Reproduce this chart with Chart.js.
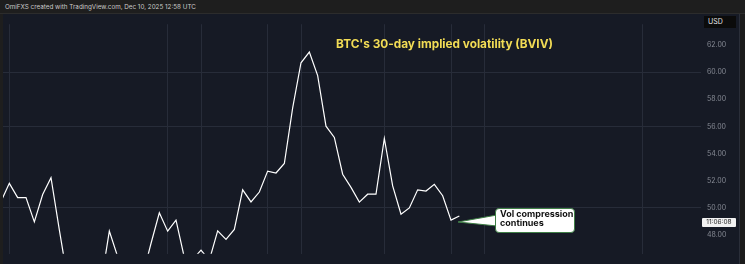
<!DOCTYPE html>
<html>
<head>
<meta charset="utf-8">
<script src="https://cdn.jsdelivr.net/npm/chart.js@4.4.1/dist/chart.umd.min.js"></script>
<style>
  html, body { margin: 0; padding: 0; }
  body { width: 745px; height: 264px; overflow: hidden; background: #1b1b1b; position: relative; font-family: Inter, "Liberation Sans", sans-serif; }
  #header { position: absolute; left: 0; top: 0; width: 745px; height: 13px; background: #1e1e1e; border-bottom: 1px solid #2c2c2c; }
  #header span { position: absolute; left: 5px; top: 3px; font-size: 6.3px; color: #c9c9c9; white-space: nowrap; }
  #frame { position: absolute; left: 0; top: 14px; width: 739px; height: 250px; background: #161a25; border-right: 1px solid #2a2e39; }
  #wrap { position: absolute; left: 1px; top: 14px; width: 738px; height: 250px; }
  #strip { position: absolute; left: 0; top: 14px; width: 3px; height: 250px; background: #1e1e1e; }
  #title { position: absolute; left: 336px; top: 37px; font-size: 11.8px; font-weight: 700; color: #f2dc55; white-space: nowrap; }
  #usd { position: absolute; left: 704px; top: 16px; width: 32px; height: 12px; background: #0b0b0b; color: #e8e8e8; font-size: 7px; line-height: 12px; text-indent: 4px; }
  #timer { position: absolute; left: 702px; top: 218px; width: 34px; height: 9px; background: #f2f2f2; color: #222; font-size: 6.5px; line-height: 9px; text-align: center; border-radius: 1px; }
  #callout { position: absolute; left: 495px; top: 208px; width: 74px; height: 22px; background: #fff; border: 1.5px solid #3f7f46; border-radius: 4px; padding: 1px 0 0 4px; }
  #callout div { font-size: 9px; font-weight: 700; color: #111; line-height: 8.5px; white-space: nowrap; }
  svg { position: absolute; left: 0; top: 0; }
</style>
</head>
<body>
<div id="header"><span>OmiFXS created with TradingView.com, Dec 10, 2025 12:58 UTC</span></div>
<div id="frame"></div>
<div id="wrap"><canvas id="chart" width="738" height="250"></canvas></div>
<div id="strip"></div>
<div id="title">BTC's 30-day implied volatility (BVIV)</div>
<div id="usd">USD</div>
<div id="timer">11:06:08</div>
<svg width="745" height="264"><polygon points="458,222 497,215 497,226" fill="#ffffff" stroke="#3f7f46" stroke-width="1"/></svg>
<div id="callout"><div>Vol compression</div><div>continues</div></div>
<script>
/* Data */
var bviv = [
	50.47, 51.81, 50.76, 50.76, 48.97, 50.99, 52.23, 48.38, 44.70, 45.00,
	45.60, 44.80, 44.45, 48.29, 46.41, 45.50, 45.00, 45.00, 47.38, 49.64,
	48.29, 49.10, 46.35, 46.20, 46.89, 46.15, 48.31, 47.68, 48.42, 51.33,
	50.44, 51.17, 52.71, 52.57, 53.27, 57.37, 60.69, 61.48, 59.74, 56.02,
	55.19, 52.48, 51.51, 50.43, 51.01, 51.01, 55.12, 51.62, 49.53, 50.00,
	51.33, 51.24, 51.74, 50.90, 49.10, 49.41
];
var yTicks = [48, 50, 52, 54, 56, 58, 60, 62];
var yGridAt = [50, 56, 60];
var xGridAt = ['Oct 17', 'Nov 5', 'Nov 9', 'Nov 17', 'Nov 21', 'Dec 1', 'Dec 9', 'Dec 13', 'Jan 1'];

/* Categories: daily, Oct 16 2025 onward, with empty room on the right */
var months = ['Jan','Feb','Mar','Apr','May','Jun','Jul','Aug','Sep','Oct','Nov','Dec'];
var days = [];
for (var i = 0; i < 85; i++) {
	var d = new Date(Date.UTC(2025, 9, 16 + i));
	days.push(months[d.getUTCMonth()] + ' ' + d.getUTCDate());
}

var gridColor = '#272c39';

var chart = new Chart(document.getElementById('chart'), {
	type: 'line',
	data: {
		labels: days,
		datasets: [{
			label: 'BVIV',
			data: bviv,
			borderColor: '#ffffff',
			borderWidth: 1.2,
			pointRadius: 0,
			tension: 0
		}]
	},
	options: {
		responsive: false,
		animation: false,
		devicePixelRatio: 1,
		layout: { padding: 0 },
		plugins: { legend: { display: false }, tooltip: { enabled: false } },
		scales: {
			x: {
				offset: false,
				ticks: { display: false, autoSkip: false },
				grid: {
					drawTicks: false,
					color: function(ctx) {
						return ctx.tick && xGridAt.indexOf(days[ctx.tick.value]) >= 0 ? gridColor : 'rgba(0,0,0,0)';
					}
				},
				border: { display: false }
			},
			y: {
				position: 'right',
				min: 46.62,
				max: 63.53,
				afterBuildTicks: function(scale) {
					scale.ticks = yTicks.map(function(v) { return { value: v }; });
				},
				afterFit: function(scale) { scale.width = 38; },
				ticks: {
					color: '#868a94',
					font: { size: 7, family: 'Inter' },
					padding: 6,
					callback: function(v) { return Number(v).toFixed(2); }
				},
				grid: {
					drawTicks: false,
					color: function(ctx) {
						return ctx.tick && yGridAt.indexOf(ctx.tick.value) >= 0 ? gridColor : 'rgba(0,0,0,0)';
					}
				},
				border: { display: false }
			}
		}
	}
});
</script>
</body>
</html>
